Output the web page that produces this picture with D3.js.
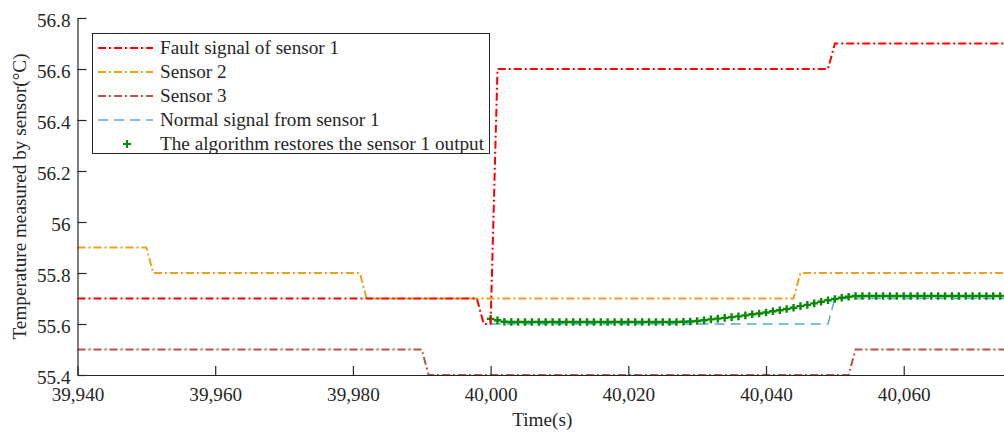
<!DOCTYPE html>
<html>
<head>
<meta charset="utf-8">
<title>Sensor restore</title>
<style>
  body { margin: 0; background: #fff; }
  svg { display: block; }
  text { font-family: "Liberation Serif", "Times New Roman", serif; fill: #262626; }
</style>
</head>
<body>
<div id="chart"></div>
<script src="https://cdnjs.cloudflare.com/ajax/libs/d3/7.8.5/d3.min.js"></script>
<script>
// step signals, stored as [time, value] points where the level changes
var faultSensor1 = [[39940, 55.7], [39998, 55.7], [39999, 55.6], [40000, 55.6], [40001, 56.6], [40049, 56.6], [40050, 56.7], [40075, 56.7]];
var sensor2 = [[39940, 55.9], [39950, 55.9], [39951, 55.8], [39981, 55.8], [39982, 55.7], [40044, 55.7], [40045, 55.8], [40075, 55.8]];
var sensor3 = [[39940, 55.5], [39990, 55.5], [39991, 55.4], [40052, 55.4], [40053, 55.5], [40075, 55.5]];
var normalSensor1 = [[40000, 55.6], [40049, 55.6], [40050, 55.7], [40075, 55.7]];

// restored output, one value per second from 40000
var restoredStart = 40000;
var restoredValues = [
  55.620, 55.615, 55.609, 55.608, 55.608, 55.608, 55.608, 55.608, 55.608, 55.608,
  55.608, 55.608, 55.608, 55.608, 55.608, 55.608, 55.608, 55.608, 55.608, 55.608,
  55.608, 55.608, 55.608, 55.608, 55.608, 55.608, 55.608, 55.608, 55.609, 55.610,
  55.612, 55.615, 55.618, 55.621, 55.624, 55.627, 55.630, 55.634, 55.638, 55.641,
  55.645, 55.650, 55.654, 55.659, 55.664, 55.670, 55.675, 55.681, 55.687, 55.693,
  55.698, 55.703, 55.707, 55.710, 55.710, 55.710, 55.710, 55.710, 55.710, 55.710,
  55.710, 55.710, 55.710, 55.710, 55.710, 55.710, 55.710, 55.710, 55.710, 55.710,
  55.710, 55.710, 55.710, 55.710, 55.710
];

var xTicks = [39940, 39960, 39980, 40000, 40020, 40040, 40060];
var yTicks = [55.4, 55.6, 55.8, 56, 56.2, 56.4, 56.6, 56.8];

var legendNames = ["Fault signal of sensor 1", "Sensor 2", "Sensor 3", "Normal signal from sensor 1", "The algorithm restores the sensor 1 output"];

var width = 1004, height = 434;
var plotLeft = 77.5, plotRight = 1007, plotTop = 18, plotBottom = 375;
var fontSize = 19.2;

var svg = d3.select("#chart").append("svg")
  .attr("width", width).attr("height", height);

var x = d3.scaleLinear().domain([39940, 40075]).range([plotLeft, plotRight]);
var y = d3.scaleLinear().domain([55.4, 56.8]).range([plotBottom, plotTop]);

var line = d3.line().x(function(d) { return x(d[0]); }).y(function(d) { return y(d[1]); });

var styles = [
  { color: "#ff0000", dash: "8,3,2,3", w: 2 },
  { color: "#eba11c", dash: "8,3,2,3", w: 2 },
  { color: "#b5504e", dash: "8,3,2,3", w: 2 },
  { color: "#5ba8da", dash: "10,6", w: 1.5 }
];
var lineData = [faultSensor1, sensor2, sensor3, normalSensor1];

// draw order: normal first so the others sit on top
svg.append("path").attr("d", line(normalSensor1)).attr("fill", "none")
  .attr("stroke", styles[3].color).attr("stroke-width", styles[3].w).attr("stroke-dasharray", styles[3].dash);

var restored = restoredValues.map(function(v, i) { return [restoredStart + i, v]; });
var plusSize = 3.8;
svg.append("g").selectAll("path").data(restored).enter().append("path")
  .attr("d", function(d) {
    var cx = x(d[0]), cy = y(d[1]);
    return "M" + (cx - plusSize) + "," + cy + "H" + (cx + plusSize) + "M" + cx + "," + (cy - plusSize) + "V" + (cy + plusSize);
  })
  .attr("stroke", "#078a07").attr("stroke-width", 2.4).attr("fill", "none");

[2, 1, 0].forEach(function(i) {
  svg.append("path").attr("d", line(lineData[i])).attr("fill", "none")
    .attr("stroke", styles[i].color).attr("stroke-width", styles[i].w)
    .attr("stroke-dasharray", styles[i].dash);
});

// axes, ticks pointing inward
var xAxis = svg.append("g").attr("transform", "translate(0," + plotBottom + ")")
  .call(d3.axisBottom(x).tickValues(xTicks).tickFormat(d3.format(",")).tickSizeInner(-9).tickSizeOuter(0).tickPadding(12));
var yAxis = svg.append("g").attr("transform", "translate(" + plotLeft + ",0)")
  .call(d3.axisLeft(y).tickValues(yTicks).tickFormat(function(d) { return String(+d.toFixed(1)); }).tickSizeInner(-9).tickSizeOuter(0).tickPadding(7));
yAxis.selectAll(".tick text").attr("dy", "0.42em");

[xAxis, yAxis].forEach(function(a) {
  a.attr("font-size", fontSize).attr("font-family", "Liberation Serif, serif");
  a.select(".domain").attr("stroke", "#262626").attr("stroke-width", 1.2);
  a.selectAll(".tick line").attr("stroke", "#262626").attr("stroke-width", 1.2);
  a.selectAll(".tick text").attr("fill", "#262626");
});

svg.append("text").attr("x", (plotLeft + plotRight) / 2).attr("y", 426)
  .attr("text-anchor", "middle").attr("font-size", fontSize).text("Time(s)");

svg.append("text").attr("transform", "translate(26," + (plotTop + plotBottom) / 2 + ") rotate(-90)")
  .attr("text-anchor", "middle").attr("font-size", fontSize).text("Temperature measured by sensor(°C)");

// legend
var legend = svg.append("g");
legend.append("rect").attr("x", 92.5).attr("y", 33.5).attr("width", 397).attr("height", 120)
  .attr("fill", "#fff").attr("stroke", "#262626").attr("stroke-width", 1);

legendNames.forEach(function(name, i) {
  var ly = 48 + i * 24;
  if (i < 4) {
    legend.append("line").attr("x1", 98).attr("x2", 153).attr("y1", ly).attr("y2", ly)
      .attr("stroke", styles[i].color).attr("stroke-width", styles[i].w)
      .attr("stroke-dasharray", styles[i].dash);
  } else {
    legend.append("path").attr("d", "M123," + ly + "H131M127," + (ly - 4) + "V" + (ly + 4))
      .attr("stroke", "#078a07").attr("stroke-width", 2);
  }
  legend.append("text").attr("x", 160).attr("y", ly + 6).attr("font-size", fontSize).text(name);
});
</script>
</body>
</html>
